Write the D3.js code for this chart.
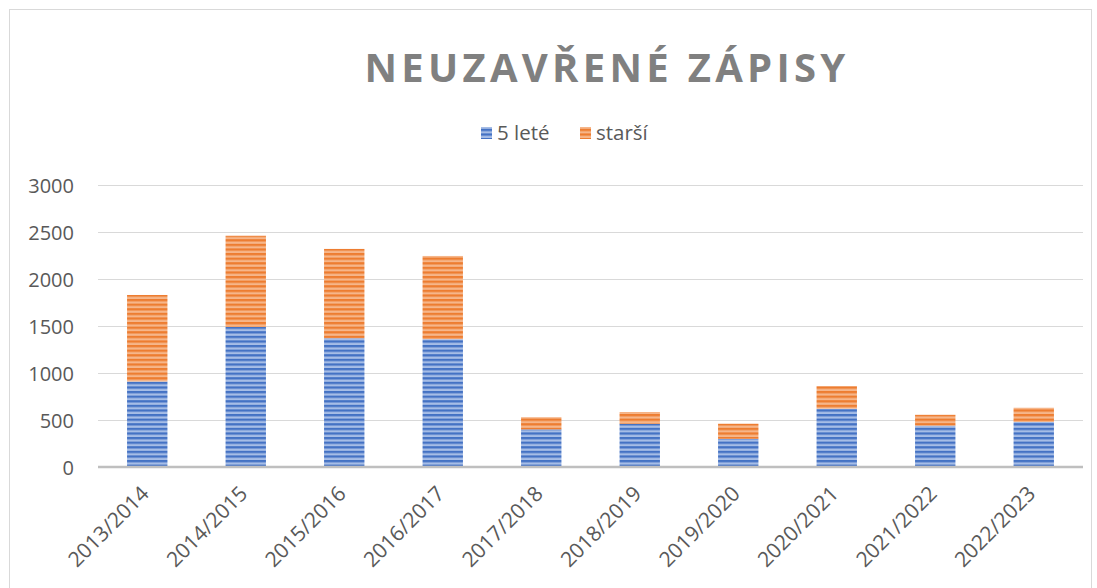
<!DOCTYPE html>
<html>
<head>
<meta charset="utf-8">
<script src="https://cdn.jsdelivr.net/npm/d3@7"></script>
<style>
    body { margin: 0; background: #fff; }
    svg text { font-family: 'Open Sans', sans-serif; fill: #595959; }
</style>
</head>
<body>
<svg id="chart"></svg>
<script>
const years = ['2013/2014', '2014/2015', '2015/2016', '2016/2017', '2017/2018',
    '2018/2019', '2019/2020', '2020/2021', '2021/2022', '2022/2023'];
const fiveYear = [910, 1490, 1370, 1360, 400, 460, 300, 620, 440, 480];
const older = [920, 970, 950, 885, 130, 125, 160, 240, 115, 150];
const yTicks = [0, 500, 1000, 1500, 2000, 2500, 3000];
const seriesNames = ['5 leté', 'starší'];

const width = 1097, height = 588;
const marginLeft = 98, marginRight = 14, marginTop = 185, marginBottom = 121;

const svg = d3.select('#chart').attr('width', width).attr('height', height);

// stripe patterns
const defs = svg.append('defs');
function stripes(id, dark, light) {
    const p = defs.append('pattern').attr('id', id)
        .attr('patternUnits', 'userSpaceOnUse').attr('width', 8).attr('height', 4.6);
    p.append('rect').attr('width', 8).attr('height', 4.6).attr('fill', light);
    p.append('rect').attr('width', 8).attr('height', 2.3).attr('fill', dark);
}
stripes('blueStripe', '#4472c4', '#a6bde6');
stripes('orangeStripe', '#ed7d31', '#f6b68a');

// chart border
svg.append('rect')
    .attr('x', 9.5).attr('y', 9.5).attr('width', 1082).attr('height', 600)
    .attr('fill', 'none').attr('stroke', '#d9d9d9');

const x = d3.scaleBand()
    .domain(years)
    .range([marginLeft, width - marginRight])
    .paddingInner(0.59).paddingOuter(0.295);

const y = d3.scaleLinear()
    .domain([0, 3000])
    .range([height - marginBottom, marginTop]);

// grid
svg.append('g')
    .selectAll('line')
    .data(yTicks.slice(1))
    .enter()
    .append('line')
    .attr('x1', marginLeft).attr('x2', width - marginRight)
    .attr('y1', d => Math.round(y(d)) + 0.5).attr('y2', d => Math.round(y(d)) + 0.5)
    .attr('stroke', '#d9d9d9').attr('stroke-width', 1);

// y axis labels
const yAxis = svg.append('g')
    .attr('transform', `translate(${marginLeft - 24}, 0)`)
    .call(d3.axisLeft(y).tickValues(yTicks).tickFormat(d3.format('d')).tickSize(0).tickPadding(0));
yAxis.select('.domain').remove();
yAxis.selectAll('text').attr('font-size', 20).attr('dy', '0.35em').style('fill', '#595959');

// bars
const stackData = years.map((yr, i) => ({ year: yr, a: fiveYear[i], b: older[i] }));

svg.append('g')
    .selectAll('rect')
    .data(stackData)
    .enter()
    .append('rect')
    .attr('x', d => x(d.year))
    .attr('width', x.bandwidth())
    .attr('y', d => y(d.a))
    .attr('height', d => y(0) - y(d.a))
    .attr('fill', 'url(#blueStripe)');

svg.append('g')
    .selectAll('rect')
    .data(stackData)
    .enter()
    .append('rect')
    .attr('x', d => x(d.year))
    .attr('width', x.bandwidth())
    .attr('y', d => y(d.a + d.b))
    .attr('height', d => y(d.a) - y(d.a + d.b))
    .attr('fill', 'url(#orangeStripe)');

// x axis
const xAxis = svg.append('g')
    .attr('transform', `translate(0, ${y(0)})`)
    .call(d3.axisBottom(x).tickSize(0).tickPadding(0));
xAxis.select('.domain')
    .attr('d', `M${marginLeft},0H${width - marginRight}`)
    .attr('stroke', '#bfbfbf').attr('stroke-width', 2.5);
xAxis.selectAll('text')
    .attr('font-size', 21)
    .attr('text-anchor', 'end')
    .attr('dy', null)
    .attr('transform', 'translate(3, 28) rotate(-45)')
    .style('fill', '#595959');

// title
svg.append('text')
    .attr('x', 607).attr('y', 82)
    .attr('text-anchor', 'middle')
    .attr('font-size', 40)
    .attr('font-weight', 'bold')
    .attr('letter-spacing', 4.3)
    .style('fill', '#808080')
    .text('NEUZAVŘENÉ ZÁPISY');

// legend
const legendItems = [
    { name: seriesNames[0], fill: 'url(#blueStripe)', x: 481 },
    { name: seriesNames[1], fill: 'url(#orangeStripe)', x: 580 },
];
const legend = svg.append('g');
legend.selectAll('rect')
    .data(legendItems)
    .enter()
    .append('rect')
    .attr('x', d => d.x).attr('y', 127)
    .attr('width', 11).attr('height', 12)
    .attr('fill', d => d.fill);
legend.selectAll('text')
    .data(legendItems)
    .enter()
    .append('text')
    .attr('x', d => d.x + 16).attr('y', 140)
    .attr('font-size', 20.5)
    .text(d => d.name);
</script>
</body>
</html>
